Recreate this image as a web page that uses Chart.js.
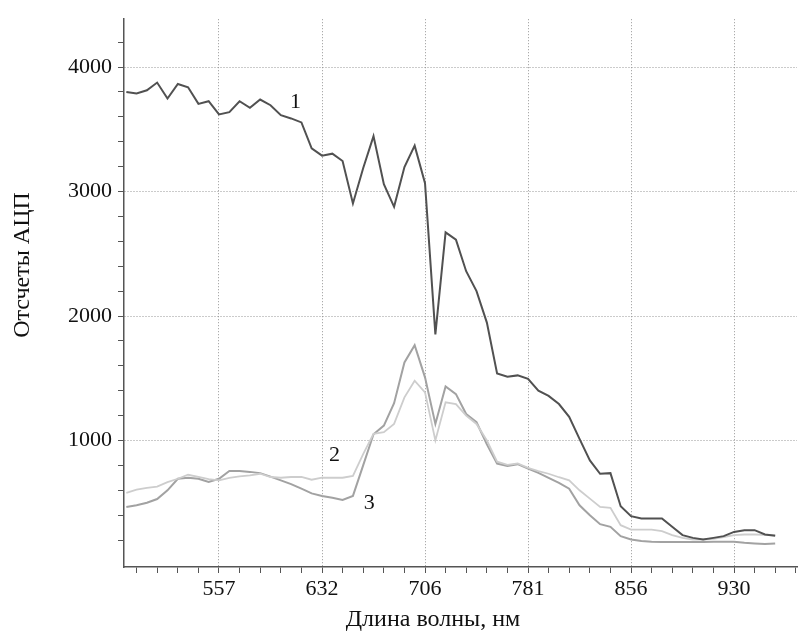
<!DOCTYPE html>
<html><head><meta charset="utf-8">
<script src="https://cdn.jsdelivr.net/npm/chart.js@4.4.1/dist/chart.umd.min.js"></script>
<style>html,body{margin:0;padding:0;background:#fff;} #wrap{width:800px;height:634px;position:relative;}</style>
</head><body><div id="wrap"><canvas id="c"></canvas></div>
<script>
const wavelengths = [490.1,497.5,505.0,512.4,519.9,527.4,534.8,542.3,549.7,557.2,
  564.7,572.1,579.6,587.0,594.5,602.0,609.4,616.9,624.3,631.8,
  639.3,646.7,654.2,661.6,669.1,676.6,684.0,691.5,698.9,706.4,
  713.9,721.3,728.8,736.2,743.7,751.2,758.6,766.1,773.5,781.0,
  788.5,795.9,803.4,810.8,818.3,825.8,833.2,840.7,848.1,855.6,
  863.1,870.5,878.0,885.4,892.9,900.4,907.8,915.3,922.7,930.2,
  937.7,945.1,952.6,960.0];
const series1 = [3800,3787,3813,3875,3747,3864,3837,3704,3725,3619,
  3637,3725,3672,3739,3693,3613,3587,3555,3347,3288,
  3304,3245,2904,3187,3445,3059,2877,3197,3368,3067,
  1853,2672,2613,2360,2200,1947,1539,1512,1523,1495,
  1400,1358,1293,1190,1013,840,733,738,472,392,
  373,373,373,307,240,218,205,218,232,266,
  280,280,245,235];
const series2 = [579,605,620,630,665,693,725,707,690,680,
  700,712,720,733,707,701,707,707,685,701,
  701,701,715,890,1053,1067,1133,1347,1480,1387,
  1000,1307,1293,1200,1133,1000,830,805,815,780,
  755,733,705,680,600,533,467,459,320,285,
  285,285,272,240,218,205,205,210,225,240,
  245,245,242,240];
const series3 = [466,480,500,530,600,693,700,693,667,693,
  755,755,748,738,710,680,650,613,575,555,
  540,522,555,800,1050,1120,1300,1627,1765,1507,
  1133,1434,1373,1213,1147,970,815,795,810,775,
  740,700,660,613,480,400,328,307,232,205,
  192,187,185,185,185,185,185,187,187,187,
  179,173,168,173];
const xMajorTicks = [557.2, 631.8, 706.4, 781.0, 855.6, 930.2];
const xTickLabels = ['557','632','706','781','856','930'];
const yMajorTicks = [1000, 2000, 3000, 4000];
const yTickLabels = ['1000','2000','3000','4000'];
const seriesNames = ['1','2','3'];
const seriesNamePos = [[612.6, 3720], [640.8, 880], [666.0, 500]];
const xTitle = 'Длина волны, нм';
const yTitle = 'Отсчеты АЦП';

const FONT = '"Liberation Serif", "Times New Roman", serif';
const gridColor = 'rgba(140,140,140,0.9)';
const axisColor = '#555';

function majorIndex(list, v) {
  for (let i = 0; i < list.length; i++) if (Math.abs(list[i] - v) < 0.5) return i;
  return -1;
}

const annotate = {
  id: 'annotate',
  afterDraw(chart) {
    const ctx = chart.ctx;
    const xs = chart.scales.x, ys = chart.scales.y;
    ctx.save();
    ctx.fillStyle = '#111';
    ctx.textAlign = 'center';
    ctx.textBaseline = 'middle';
    ctx.font = '22px ' + FONT;
    seriesNames.forEach((n, i) => {
      ctx.fillText(n, xs.getPixelForValue(seriesNamePos[i][0]), ys.getPixelForValue(seriesNamePos[i][1]));
    });
    ctx.font = '24px ' + FONT;
    ctx.fillText(xTitle, 433, 620);
    ctx.translate(23, 265);
    ctx.rotate(-Math.PI / 2);
    ctx.fillText(yTitle, 0, 0);
    ctx.restore();
  }
};

new Chart(document.getElementById('c'), {
  type: 'line',
  data: {
    datasets: [
      { label: '1', data: wavelengths.map((w, i) => ({x: w, y: series1[i]})), borderColor: '#515151', borderWidth: 2 },
      { label: '2', data: wavelengths.map((w, i) => ({x: w, y: series2[i]})), borderColor: '#cdcdcd', borderWidth: 1.8 },
      { label: '3', data: wavelengths.map((w, i) => ({x: w, y: series3[i]})), borderColor: '#a2a2a2', borderWidth: 2 }
    ]
  },
  options: {
    responsive: true,
    maintainAspectRatio: false,
    animation: false,
    layout: { padding: { top: 17, right: 3, left: 0, bottom: 0 } },
    elements: { point: { radius: 0 }, line: { tension: 0 } },
    plugins: { legend: { display: false }, tooltip: { enabled: false } },
    scales: {
      x: {
        type: 'linear',
        min: 488.4, max: 975.8,
        afterBuildTicks(scale) {
          const step = (xMajorTicks[1] - xMajorTicks[0]) / 5;
          const t = [];
          for (let k = -10; k <= 40; k++) {
            const v = xMajorTicks[0] + k * step;
            if (v >= scale.min && v <= scale.max) t.push({ value: v });
          }
          scale.ticks = t;
        },
        afterFit(scale) { scale.height = 67; },
        ticks: {
          autoSkip: false, maxRotation: 0, padding: 3,
          color: '#111', font: { family: FONT, size: 22 },
          callback(v) { const i = majorIndex(xMajorTicks, v); return i >= 0 ? xTickLabels[i] : ''; }
        },
        grid: {
          color: (c) => (c.tick && majorIndex(xMajorTicks, c.tick.value) >= 0) ? gridColor : 'rgba(0,0,0,0)',
          tickColor: axisColor, tickLength: 6, lineWidth: 1
        },
        border: { display: true, color: axisColor, width: 1.5, dash: [1, 2] }
      },
      y: {
        type: 'linear',
        min: -16, max: 4384,
        afterBuildTicks(scale) {
          const t = [];
          for (let v = 200; v <= 4200; v += 200) t.push({ value: v });
          scale.ticks = t;
        },
        afterFit(scale) { scale.width = 124; },
        ticks: {
          autoSkip: false, padding: 6,
          color: '#111', font: { family: FONT, size: 22 },
          callback(v) { const i = majorIndex(yMajorTicks, v); return i >= 0 ? yTickLabels[i] : ''; }
        },
        grid: {
          color: (c) => (c.tick && majorIndex(yMajorTicks, c.tick.value) >= 0) ? gridColor : 'rgba(0,0,0,0)',
          tickColor: axisColor, tickLength: 6, lineWidth: 1
        },
        border: { display: true, color: axisColor, width: 1.5, dash: [1, 2] }
      }
    }
  },
  plugins: [annotate]
});
</script></body></html>
